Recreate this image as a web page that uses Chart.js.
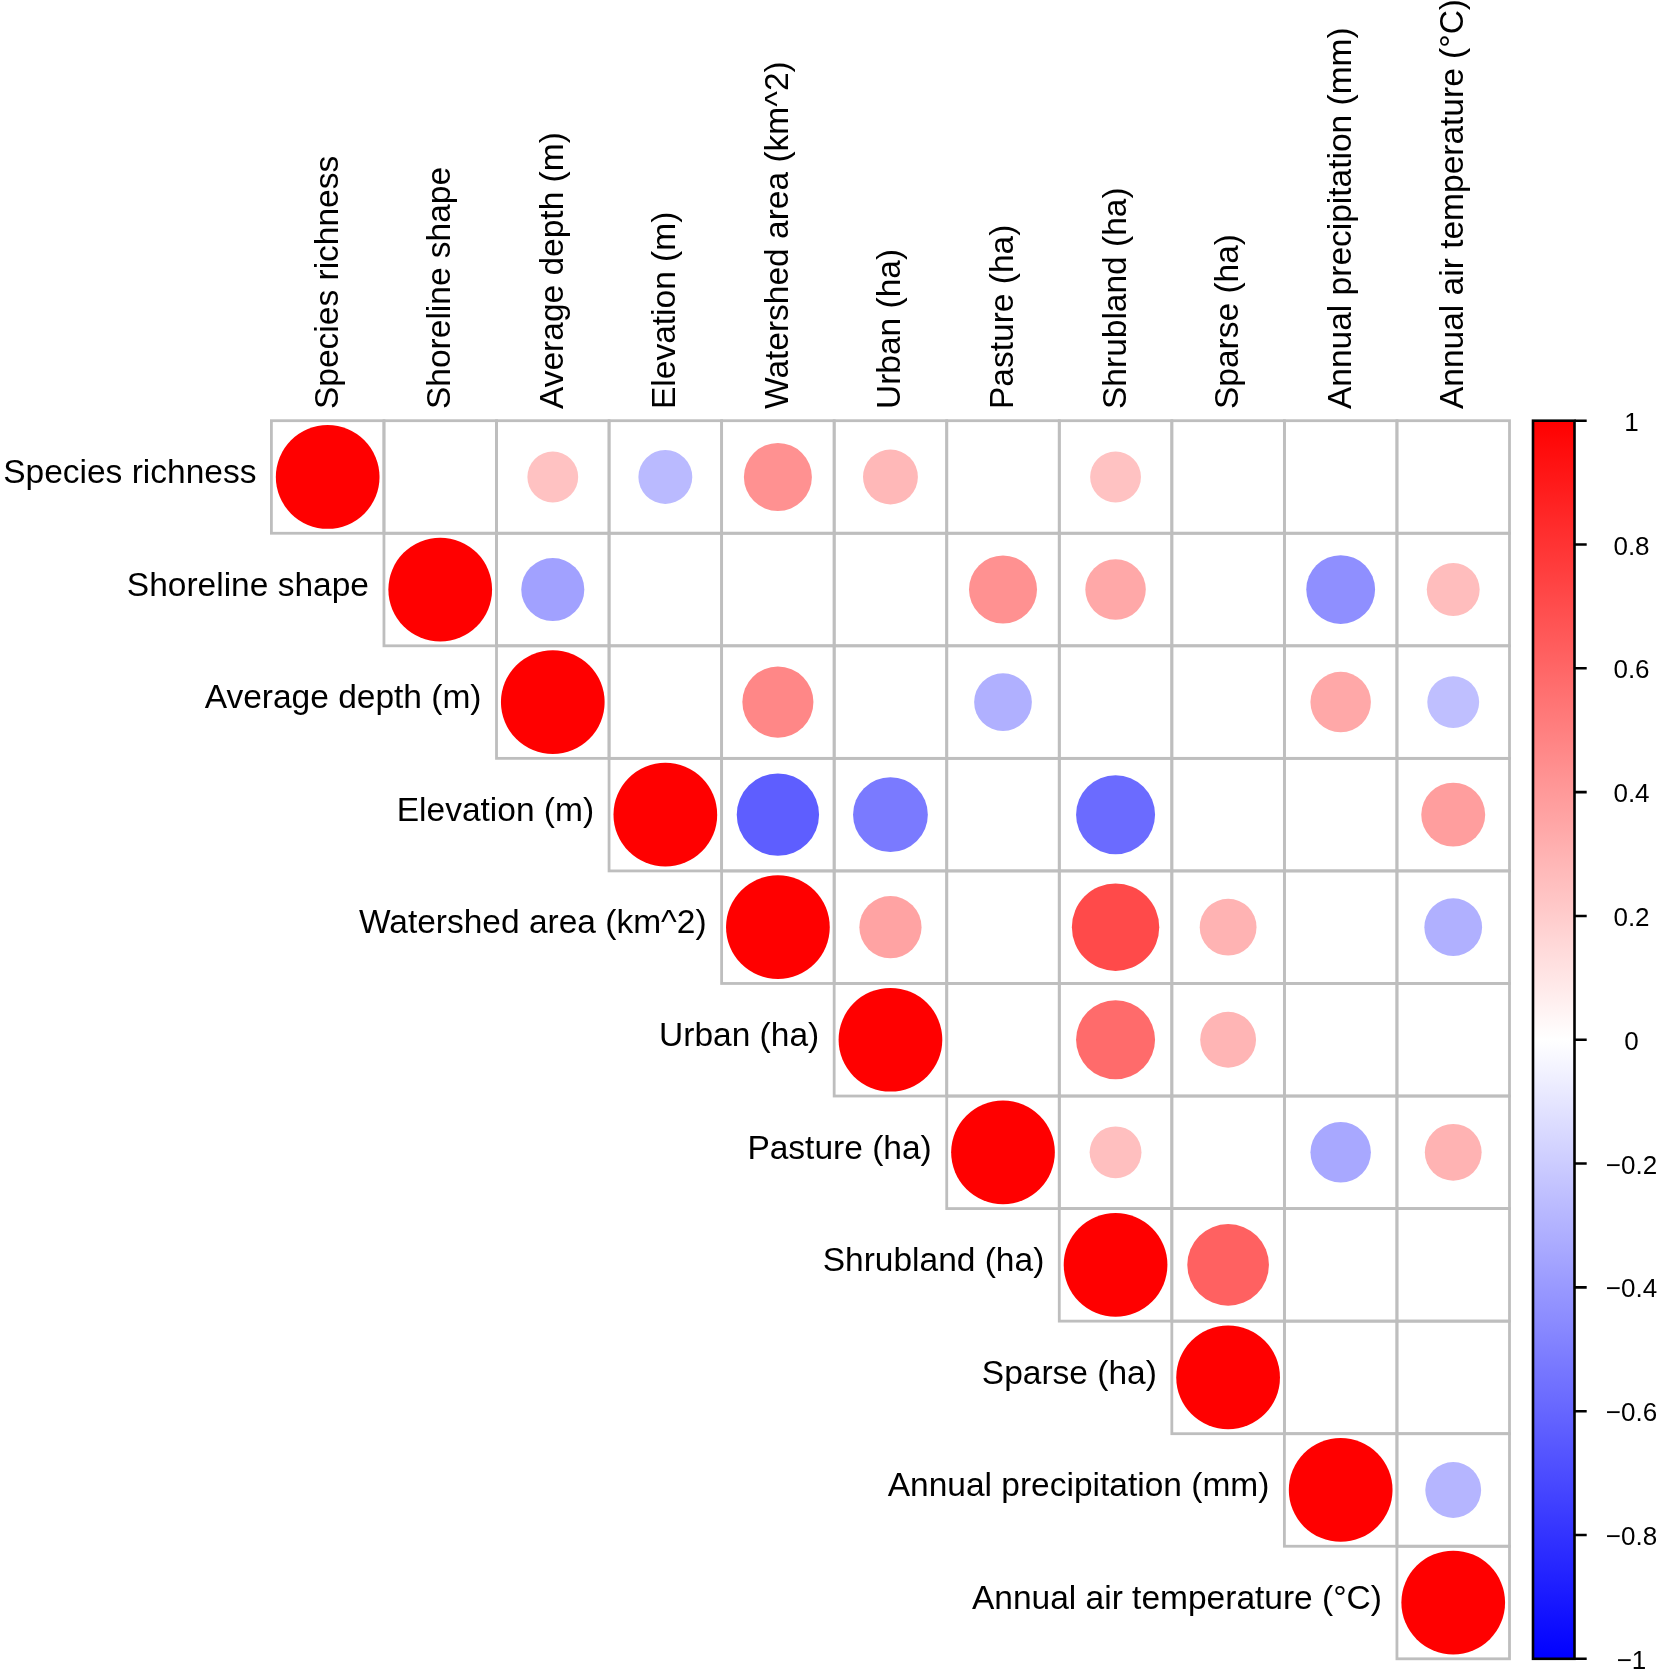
<!DOCTYPE html>
<html>
<head>
<meta charset="utf-8">
<script src="https://cdn.jsdelivr.net/npm/chart.js@4.4.1/dist/chart.umd.min.js"></script>
<style>
  html, body { margin: 0; padding: 0; background: #ffffff; }
  #wrap { width: 1663px; height: 1673px; position: relative; }
</style>
</head>
<body>
<div id="wrap"><canvas id="c"></canvas></div>
<script>
// ---------------- data ----------------
const variables = [
  "Species richness", "Shoreline shape", "Average depth (m)", "Elevation (m)",
  "Watershed area (km^2)", "Urban (ha)", "Pasture (ha)", "Shrubland (ha)",
  "Sparse (ha)", "Annual precipitation (mm)", "Annual air temperature (°C)"
];

// upper-triangle correlations (null = not shown)
const rowSpeciesRichness = [1, null, 0.24, -0.27, 0.43, 0.28, null, 0.24, null, null, null];
const rowShorelineShape  = [null, 1, -0.37, null, null, null, 0.43, 0.34, null, -0.44, 0.26];
const rowAverageDepth    = [null, null, 1, null, 0.47, null, -0.31, null, null, 0.34, -0.25];
const rowElevation       = [null, null, null, 1, -0.63, -0.52, null, -0.58, null, null, 0.38];
const rowWatershedArea   = [null, null, null, null, 1, 0.36, null, 0.71, 0.30, null, -0.31];
const rowUrban           = [null, null, null, null, null, 1, null, 0.58, 0.29, null, null];
const rowPasture         = [null, null, null, null, null, null, 1, 0.25, null, -0.34, 0.30];
const rowShrubland       = [null, null, null, null, null, null, null, 1, 0.62, null, null];
const rowSparse          = [null, null, null, null, null, null, null, null, 1, null, null];
const rowAnnualPrecip    = [null, null, null, null, null, null, null, null, null, 1, -0.29];
const rowAnnualAirTemp   = [null, null, null, null, null, null, null, null, null, null, 1];

const colorbarTicks  = [1, 0.8, 0.6, 0.4, 0.2, 0, -0.2, -0.4, -0.6, -0.8, -1];
const colorbarLabels = ["1", "0.8", "0.6", "0.4", "0.2", "0", "\u22120.2", "\u22120.4", "\u22120.6", "\u22120.8", "\u22121"];

// ---------------- build ----------------
const corrRows = [rowSpeciesRichness, rowShorelineShape, rowAverageDepth, rowElevation,
  rowWatershedArea, rowUrban, rowPasture, rowShrubland, rowSparse, rowAnnualPrecip, rowAnnualAirTemp];

function corrColor(v) {
  if (v >= 0) {
    const c = Math.round(255 * (1 - v));
    return `rgb(255,${c},${c})`;
  }
  const c = Math.round(255 * (1 + v));
  return `rgb(${c},${c},255)`;
}

const points = [];
corrRows.forEach((row, i) => row.forEach((v, j) => {
  if (v !== null) points.push({ x: j, y: i, v: v });
}));

const FONT = '"Liberation Sans", Arial, Helvetica, sans-serif';

const corrPlugin = {
  id: 'corrplot',
  beforeDatasetsDraw(chart) {
    const { ctx, scales: { x, y } } = chart;
    const n = variables.length;
    ctx.save();
    ctx.strokeStyle = '#BEBEBE';
    ctx.lineWidth = 2.8;
    for (let i = 0; i < n; i++) {
      for (let j = i; j < n; j++) {
        const x0 = x.getPixelForValue(j - 0.5), x1 = x.getPixelForValue(j + 0.5);
        const y0 = y.getPixelForValue(i - 0.5), y1 = y.getPixelForValue(i + 0.5);
        ctx.strokeRect(x0, y0, x1 - x0, y1 - y0);
      }
    }
    ctx.restore();
  },
  afterDraw(chart) {
    const { ctx, chartArea, scales: { x, y, cbar } } = chart;
    ctx.save();
    ctx.fillStyle = '#000000';
    ctx.font = `33.5px ${FONT}`;
    // row labels
    ctx.textAlign = 'right';
    ctx.textBaseline = 'alphabetic';
    variables.forEach((lab, i) => {
      ctx.fillText(lab, x.getPixelForValue(i - 0.5) - 15, y.getPixelForValue(i) + 6.3);
    });
    // column labels
    variables.forEach((lab, j) => {
      ctx.save();
      ctx.translate(x.getPixelForValue(j) + 10, chartArea.top - 11.7);
      ctx.rotate(-Math.PI / 2);
      ctx.textAlign = 'left';
      ctx.textBaseline = 'alphabetic';
      ctx.fillText(lab, 0, 0);
      ctx.restore();
    });
    // colour bar
    const yTop = cbar.getPixelForValue(1), yBot = cbar.getPixelForValue(-1);
    const bx0 = chartArea.right + 23.5, bx1 = chartArea.right + 65;
    const grad = ctx.createLinearGradient(0, yBot, 0, yTop);
    grad.addColorStop(0, '#0000FF');
    grad.addColorStop(0.5, '#FFFFFF');
    grad.addColorStop(1, '#FF0000');
    ctx.fillStyle = grad;
    ctx.fillRect(bx0, yTop, bx1 - bx0, yBot - yTop);
    ctx.strokeStyle = '#000000';
    ctx.lineWidth = 2.6;
    ctx.strokeRect(bx0, yTop, bx1 - bx0, yBot - yTop);
    ctx.beginPath();
    colorbarTicks.forEach((t) => {
      const py = cbar.getPixelForValue(t);
      ctx.moveTo(bx1, py);
      ctx.lineTo(chartArea.right + 77.2, py);
    });
    ctx.stroke();
    ctx.fillStyle = '#000000';
    ctx.font = `26px ${FONT}`;
    ctx.textAlign = 'center';
    ctx.textBaseline = 'alphabetic';
    colorbarTicks.forEach((t, k) => {
      ctx.fillText(colorbarLabels[k], chartArea.right + 122, cbar.getPixelForValue(t) + 10);
    });
    ctx.restore();
  }
};

function radiusFor(ctx) {
  if (!ctx.raw) return 0;
  const xs = ctx.chart.scales.x;
  const cell = Math.abs(xs.getPixelForValue(1) - xs.getPixelForValue(0));
  return 0.4607 * cell * Math.sqrt(Math.abs(ctx.raw.v));
}

new Chart(document.getElementById('c'), {
  type: 'scatter',
  data: {
    datasets: [{
      data: points,
      pointRadius: radiusFor,
      pointHoverRadius: radiusFor,
      backgroundColor: (ctx) => ctx.raw ? corrColor(ctx.raw.v) : '#fff',
      borderWidth: 0,
      pointBorderWidth: 0
    }]
  },
  options: {
    responsive: true,
    maintainAspectRatio: false,
    animation: false,
    events: [],
    layout: { padding: { left: 271.4, top: 420.7, right: 153.5, bottom: 14.2 } },
    plugins: { legend: { display: false }, tooltip: { enabled: false } },
    scales: {
      x: { type: 'linear', min: -0.5, max: variables.length - 0.5, display: false },
      y: { type: 'linear', min: -0.5, max: variables.length - 0.5, reverse: true, display: false },
      cbar: { type: 'linear', position: 'right', min: -1, max: 1, display: false }
    }
  },
  plugins: [corrPlugin]
});
</script>
</body>
</html>
